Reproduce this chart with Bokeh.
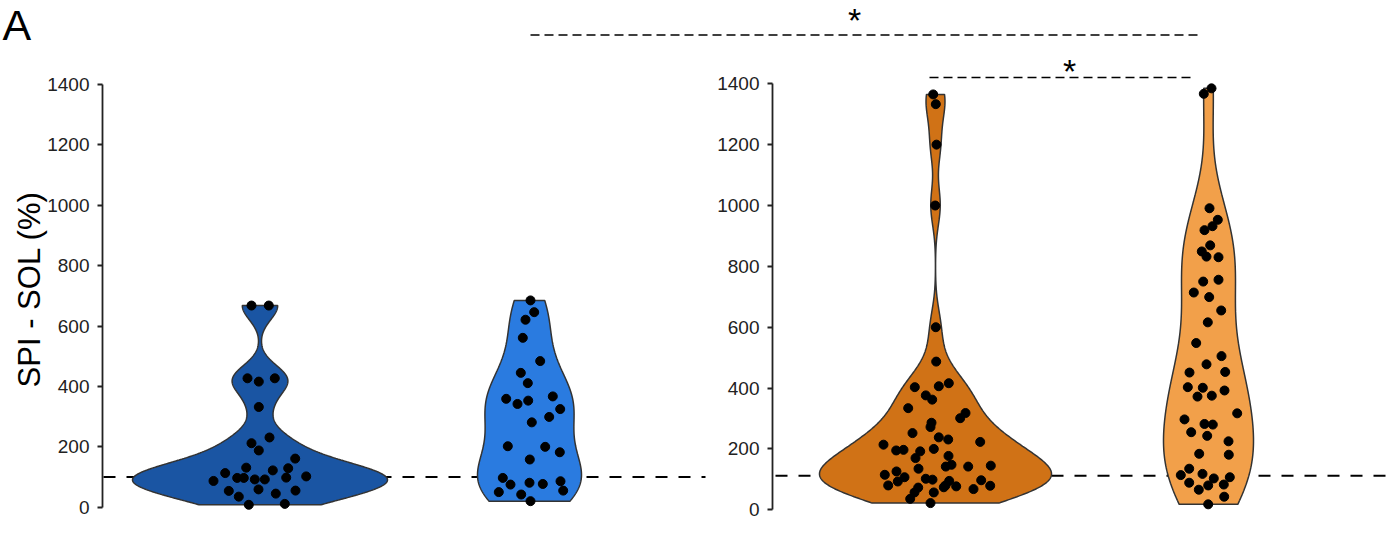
import numpy as np
from math import pi
from bokeh.plotting import figure
from bokeh.models import Range1d, FixedTicker, LinearAxis
from bokeh.embed import file_html
from bokeh.resources import INLINE
from bokeh.core.properties import value

# ---------------- data (SPI - SOL, %) ----------------
g1_values = [668, 668, 427, 416, 427, 332, 231, 212, 188, 161, 131, 129, 122, 113,
             97, 97, 92, 92, 98, 102, 87, 54, 59, 45, 55, 35, 8, 11]
g1_jitter = [-8.5, 8.8, -12.5, -1.2, 14.8, -1.2, 9.5, -8.5, -1.2, 35.2, -13.8, 28.2,
             12.8, -34.8, -22.8, -16.2, -5.2, 4.8, 26.2, 46.2, -46.5, -31.2, -1.5,
             15.8, 35.5, -21.2, -11.2, 24.8]

g2_values = [685, 646, 621, 561, 484, 445, 411, 359, 342, 353, 367, 325, 299, 281,
             202, 200, 182, 158, 97, 75, 81, 77, 86, 50, 55, 42, 20]
g2_jitter = [1, 4.7, -4, -6.7, 10.7, -8.7, -1.7, -23.3, -12, -1.3, 23.3, 30.7, 19.7,
             2.3, -21.7, 15.7, 30.3, 0.3, -26.7, -19, 0, 13.3, 31, -30.7, 33.7, -8.3, 1]

g3_values = [1365, 1333, 1200, 1000, 600, 487,
             403, 406, 416, 376, 362, 334, 318, 301, 286, 272, 252, 238, 231, 223,
             214, 195, 197, 192, 200, 170, 177, 148, 142, 142, 145, 135, 126, 115,
             107, 102, 99, 95, 93, 80, 97, 74, 80, 77, 68, 79, 73, 57, 57, 36, 22]
g3_jitter = [-2.3, 0.3, 1, -0.3, 0.3, 0.7,
             -20.7, 3.3, 13.3, -9.7, -3.3, -27.3, 30, 24.7, -4, -5, -23, 3.3, 12.7,
             44.7, -52, -39.3, -32, -15.3, -1.7, -20, 13, 16, 10.3, 32.7, 55.3, -17,
             -39, -50.7, -31, -9.7, -3, 13.7, -37.7, -47.3, 45.7, 8.3, 10, 20.7, 38,
             54.7, -17.3, -21, -1.7, -25.3, -5]

g4_values = [1385, 1367, 991, 953, 932, 919, 869, 849, 832, 830, 750, 756, 714, 699,
             655, 616, 548, 505, 478, 451, 453, 403, 401, 372, 375, 392, 317, 297,
             282, 280, 255, 243, 225, 184, 181, 135, 114, 118, 103, 107, 89, 80, 83,
             66, 43, 18]
g4_jitter = [3, -4.7, 1, 9.3, 4, -4, 1.7, -6.7, -2, 10, -5.3, 10, -14.7, 0.7, 12.7,
             -0.7, -12.3, 13, -2, -19, 16.7, -20.7, -5.7, -11, 3.3, 16, 28.7, -24, -4,
             4.3, -17.3, -1.3, 20, -9.3, 20.3, -19.3, -27.7, -6, 5.3, 21.3, -19.3,
             -0.3, 15.3, -9.7, 15.7, -0.3]

ref_left = 100
ref_right = 112
ticks = [0, 200, 400, 600, 800, 1000, 1200, 1400]
y_title = "SPI - SOL (%)"
panel_tag = "A"
sig_text = ["*", "*"]

# ---------------- layout / style ----------------
FONT = "Liberation Sans"
TXT = "#222222"
centers = [259.5, 529.0, 935.0, 1208.0]
half_widths = [127.5, 52.0, 116.0, 45.0]
fills = ["#1A55A3", "#2A7BE0", "#D07216", "#F2A04A"]
ranges = ["default", "default", "right", "right"]
groups = [(g1_values, g1_jitter), (g2_values, g2_jitter),
          (g3_values, g3_jitter), (g4_values, g4_jitter)]

p = figure(width=1389, height=534,
           x_range=Range1d(0, 1389), y_range=Range1d(-90.4, 1678.4),
           output_backend="svg", toolbar_location=None, x_axis_location=None,
           y_axis_location=None,
           min_border_left=0, min_border_right=0, min_border_top=0,
           min_border_bottom=0)
p.extra_y_ranges = {"right": Range1d(-81.2, 1673.7)}
p.outline_line_color = None
p.grid.visible = False
p.background_fill_color = "white"
p.border_fill_color = "white"


def make_axis(loc, range_name):
    a = LinearAxis(fixed_location=loc, y_range_name=range_name,
                   bounds=(ticks[0], ticks[-1]),
                   ticker=FixedTicker(ticks=ticks, minor_ticks=[]))
    a.major_tick_out = 5
    a.major_tick_in = 0
    a.minor_tick_out = 0
    a.minor_tick_in = 0
    a.axis_line_width = 1.8
    a.axis_line_color = TXT
    a.major_tick_line_width = 1.8
    a.major_tick_line_color = TXT
    a.major_label_text_font = FONT
    a.major_label_text_font_size = "19px"
    a.major_label_text_color = TXT
    a.major_label_standoff = 8
    return a


p.add_layout(make_axis(102, "default"), "left")
p.add_layout(make_axis(772, "right"), "left")

# reference dashed lines
p.segment(x0=[103], y0=[ref_left], x1=[705], y1=[ref_left], line_dash="12 11",
          line_width=2, line_color="black")
p.segment(x0=[775], y0=[ref_right], x1=[1389], y1=[ref_right], line_dash="12 11",
          line_width=2, line_color="black", y_range_name="right")


def violin_outline(vals, center, hw):
    v = np.asarray(vals, float)
    n = len(v)
    sd = v.std(ddof=1)
    q75, q25 = np.percentile(v, [75, 25])
    bw = 0.9 * min(sd, (q75 - q25) / 1.34) * n ** -0.2
    grid = np.linspace(v.min(), v.max(), 512)
    d = np.exp(-0.5 * ((grid[:, None] - v[None, :]) / bw) ** 2).sum(axis=1)
    w = d / d.max() * hw
    xs = np.concatenate([center - w, (center + w)[::-1]])
    ys = np.concatenate([grid, grid[::-1]])
    return xs, ys


for (vals, jit), c, hw, col, rn in zip(groups, centers, half_widths, fills, ranges):
    xs, ys = violin_outline(vals, c, hw)
    p.patch(xs, ys, fill_color=col, line_color="#333333", line_width=1.5,
            y_range_name=rn)
    p.scatter(x=[c + j for j in jit], y=vals, size=9, color="black",
              y_range_name=rn)

# significance brackets
p.segment(x0=[530], y0=[1564], x1=[1202], y1=[1564], line_dash="9 5",
          line_width=1.5, line_color="black")
p.text(x=[854], y=[1615], text=sig_text[:1], text_align="center",
       text_baseline="middle", text_font=value(FONT), text_font_size="34px",
       text_color="black")
p.segment(x0=[929], y0=[1421], x1=[1190], y1=[1421], line_dash="9 5",
          line_width=1.5, line_color="black", y_range_name="right")
p.text(x=[1069], y=[1441], text=sig_text[1:], text_align="center",
       text_baseline="middle", text_font=value(FONT), text_font_size="34px",
       text_color="black", y_range_name="right")

# y title and panel tag
p.text(x=[28.5], y=[722], text=[y_title], angle=pi / 2, text_align="center",
       text_baseline="middle", text_font=value(FONT), text_font_size="31px",
       text_color="black")
p.text(x=[2], y=[1597], text=[panel_tag], text_align="left",
       text_baseline="alphabetic", text_font=value(FONT), text_font_size="43px",
       text_color="black")

open("out.html", "w").write(file_html(p, INLINE))
